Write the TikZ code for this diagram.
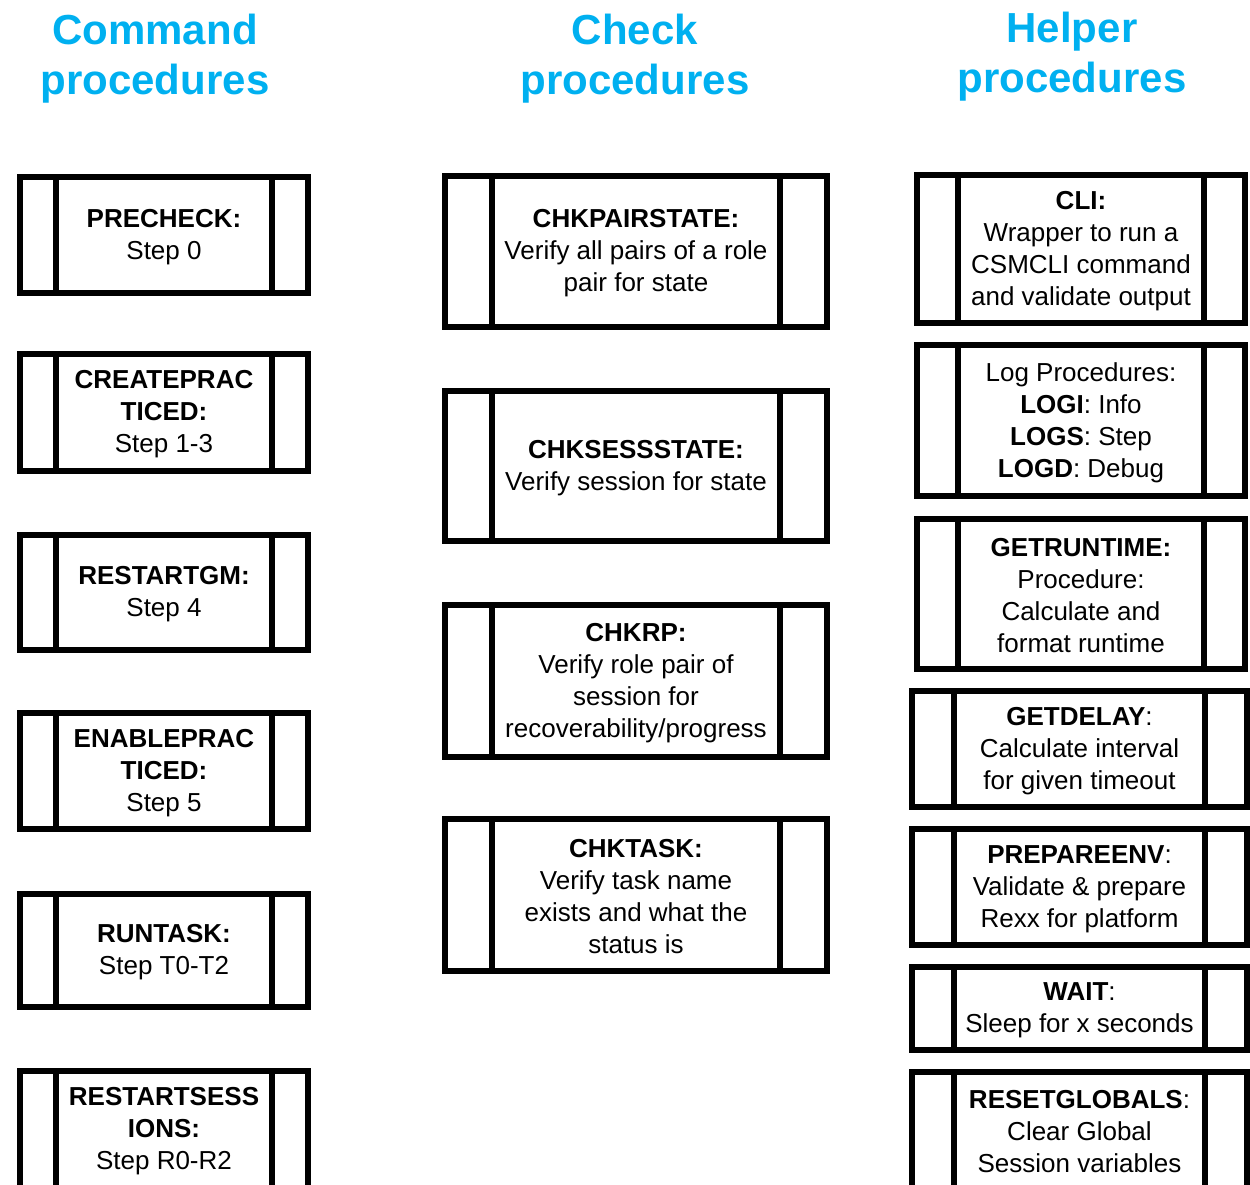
\documentclass[tikz,border=0pt]{standalone}
\usepackage{fontspec}
\setmainfont{Liberation Sans}
\definecolor{titleblue}{RGB}{0,176,240}
\tikzset{
	boxline/.style={line width=3pt, color=black},
	proctext/.style={align=center, inner sep=0pt, yshift=-1pt, font=\fontsize{13}{16}\selectfont},
	coltitle/.style={align=center, inner sep=0pt, text=titleblue, font=\fontsize{21}{25}\selectfont\bfseries},
}
\def\procbox(#1)(#2,#3)(#4,#5)[#6]#7{
	\draw[boxline] (#2,#3) rectangle (#4,#5);
	\draw[boxline] (#2+#6,#3) -- (#2+#6,#5);
	\draw[boxline] (#4-#6,#3) -- (#4-#6,#5);
	\node[proctext] (#1) at ({(#2+#4)/2},{(#3+#5)/2}) {#7};
}

\begin{document}
\begin{tikzpicture}[x=0.5pt, y=-0.5pt]
		%%%%% START %%%%%
		\useasboundingbox (0, 0) rectangle (1250, 1185);
		\clip (0, 0) rectangle (1250, 1185);
		
		\node[coltitle] (cmdtitle) at (155, 59) {Command\\procedures};
		\node[coltitle] (chktitle) at (635, 59) {Check\\procedures};
		\node[coltitle] (hlptitle) at (1072, 57) {Helper\\procedures};
		
		% command procedures
		\procbox(precheck)(20, 177)(308, 293)[36]{\textbf{PRECHECK:}\\Step 0}
		\procbox(createprac)(20, 354)(308, 471)[36]{\textbf{CREATEPRAC}\\\textbf{TICED:}\\Step 1-3}
		\procbox(restartgm)(20, 535)(308, 650)[36]{\textbf{RESTARTGM:}\\Step 4}
		\procbox(enableprac)(20, 713)(308, 829)[36]{\textbf{ENABLEPRAC}\\\textbf{TICED:}\\Step 5}
		\procbox(runtask)(20, 894)(308, 1007)[36]{\textbf{RUNTASK:}\\Step T0-T2}
		\procbox(restartsess)(20, 1071)(308, 1188)[36]{\textbf{RESTARTSESS}\\\textbf{IONS:}\\Step R0-R2}
		
		% check procedures
		\procbox(chkpair)(445, 176)(827, 327)[47]{\textbf{CHKPAIRSTATE:}\\Verify all pairs of a role\\pair for state}
		\procbox(chksess)(445, 391)(827, 541)[47]{\textbf{CHKSESSSTATE:}\\Verify session for state}
		\procbox(chkrp)(445, 605)(827, 757)[47]{\textbf{CHKRP:}\\Verify role pair of\\session for\\recoverability/progress}
		\procbox(chktask)(445, 819)(827, 971)[47]{\textbf{CHKTASK:}\\Verify task name\\exists and what the\\status is}
		
		% helper procedures
		\procbox(cli)(917, 175)(1245, 323)[41]{\textbf{CLI:}\\Wrapper to run a\\CSMCLI command\\and validate output}
		\procbox(logproc)(917, 345)(1245, 496)[41]{Log Procedures:\\\textbf{LOGI}: Info\\\textbf{LOGS}: Step\\\textbf{LOGD}: Debug}
		\procbox(getruntime)(917, 519)(1245, 669)[41]{\textbf{GETRUNTIME:}\\Procedure:\\Calculate and\\format runtime}
		\procbox(getdelay)(912, 691)(1247, 807)[42]{\textbf{GETDELAY}:\\Calculate interval\\for given timeout}
		\procbox(prepareenv)(912, 829)(1247, 945)[42]{\textbf{PREPAREENV}:\\Validate \& prepare\\Rexx for platform}
		\procbox(wait)(912, 967)(1247, 1050)[42]{\textbf{WAIT}:\\Sleep for x seconds}
		\procbox(resetglobals)(912, 1072)(1247, 1188)[42]{\textbf{RESETGLOBALS}:\\Clear Global\\Session variables}
		
		%%%%% END %%%%%
	\end{tikzpicture}
\end{document}
